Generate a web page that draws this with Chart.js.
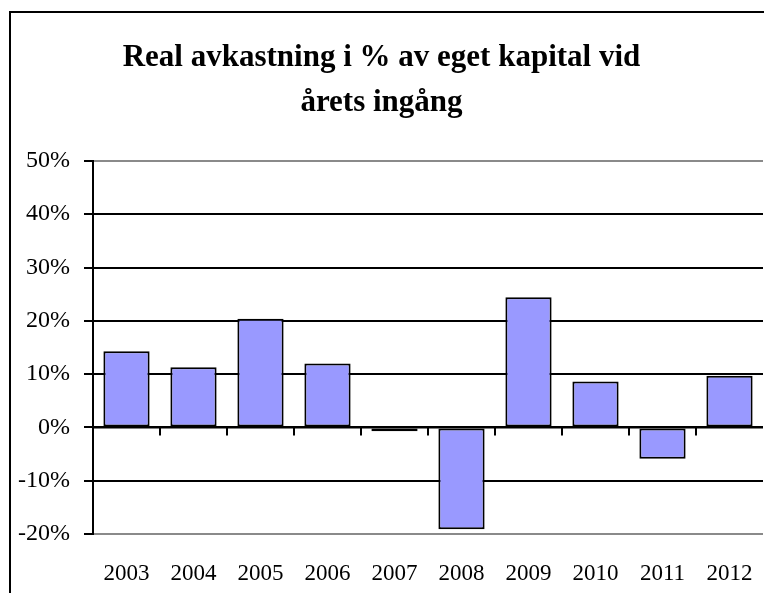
<!DOCTYPE html>
<html>
<head>
<meta charset="utf-8">
<script src="https://cdn.jsdelivr.net/npm/chart.js@4"></script>
<style>
  html, body { margin: 0; padding: 0; background: #fff; overflow: hidden; }
  canvas { display: block; }
</style>
</head>
<body>
<canvas id="diagram" width="764" height="593"></canvas>
<script>
// Data
const ar = ['2003', '2004', '2005', '2006', '2007', '2008', '2009', '2010', '2011', '2012'];
const avkastning = [14.3, 11.3, 20.4, 12.0, -0.7, -19.1, 24.4, 8.6, -5.9, 9.7];
const titelRader = ['Real avkastning i % av eget kapital vid', 'årets ingång'];

const typsnitt = '"Liberation Serif", "Times New Roman", serif';

// Ramen runt diagrammet (vänster och överkant syns i bilden)
const ram = {
    id: 'ram',
    beforeDraw(chart) {
        const ctx = chart.ctx;
        ctx.save();
        ctx.fillStyle = '#fff';
        ctx.fillRect(0, 0, chart.width, chart.height);
        ctx.strokeStyle = '#000';
        ctx.lineWidth = 2;
        ctx.beginPath();
        ctx.moveTo(10, chart.height);
        ctx.lineTo(10, 12);
        ctx.lineTo(chart.width, 12);
        ctx.stroke();
        ctx.restore();
    }
};

// Små streck vid nollinjen mellan kategorierna
const nollStreck = {
    id: 'nollStreck',
    afterDatasetsDraw(chart) {
        const x = chart.scales.x;
        const y = chart.scales.y;
        const ctx = chart.ctx;
        const y0 = y.getPixelForValue(0);
        const steg = (x.right - x.left) / ar.length;
        ctx.save();
        ctx.strokeStyle = '#000';
        ctx.lineWidth = 2;
        ctx.beginPath();
        ctx.moveTo(x.left, y0);
        ctx.lineTo(x.right, y0);
        ctx.stroke();
        for (let i = 1; i < ar.length; i++) {
            const px = Math.round(x.getPixelForValue(i) - steg / 2);
            ctx.beginPath();
            ctx.moveTo(px, y0);
            ctx.lineTo(px, y0 + 8);
            ctx.stroke();
        }
        ctx.restore();
    }
};

const ctx = document.getElementById('diagram');

new Chart(ctx, {
    type: 'bar',
    data: {
        labels: ar,
        datasets: [{
            data: avkastning,
            backgroundColor: '#9999ff',
            borderColor: '#000',
            borderWidth: 2,
            borderSkipped: false,
            barPercentage: 0.69,
            categoryPercentage: 1
        }]
    },
    options: {
        responsive: false,
        animation: false,
        layout: { padding: { left: 0, right: 1, top: 0, bottom: 0 } },
        plugins: {
            legend: { display: false },
            tooltip: { enabled: false },
            title: {
                display: true,
                text: titelRader,
                color: '#000',
                font: { family: typsnitt, size: 31, weight: 'bold', lineHeight: 1.45 },
                padding: { top: 36, bottom: 35 }
            }
        },
        scales: {
            x: {
                grid: { display: false, drawTicks: false },
                border: { display: false },
                ticks: {
                    color: '#000',
                    padding: 26,
                    maxRotation: 0,
                    font: { family: typsnitt, size: 23 }
                },
                afterFit: (s) => { s.height = 59; s.paddingLeft = 0; s.paddingRight = 0; }
            },
            y: {
                min: -20,
                max: 50,
                grid: {
                    color: (c) => (c.tick && (c.tick.value === 50 || c.tick.value === -20)) ? '#8a8a8a' : '#000',
                    lineWidth: 2,
                    tickLength: 9,
                    tickColor: '#000'
                },
                border: { display: true, color: '#000', width: 2 },
                ticks: {
                    stepSize: 10,
                    color: '#000',
                    padding: 14,
                    font: { family: typsnitt, size: 24 },
                    callback: (v) => v + '%'
                },
                afterFit: (s) => { s.width = 93; }
            }
        }
    },
    plugins: [ram, nollStreck]
});
</script>
</body>
</html>
